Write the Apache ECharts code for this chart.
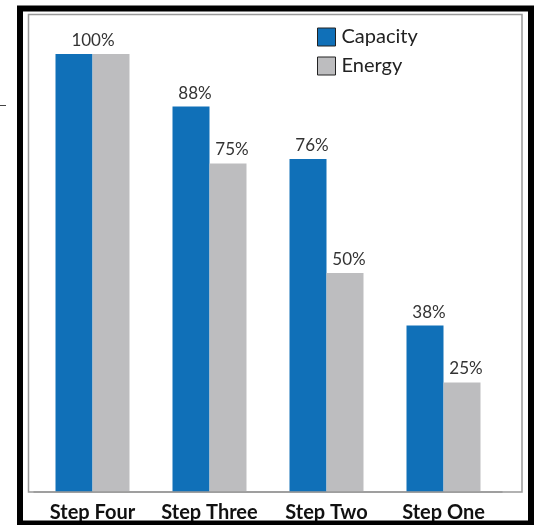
<!DOCTYPE html>
<html><head><meta charset="utf-8">
<script src="https://cdn.jsdelivr.net/npm/echarts@6/dist/echarts.min.js"></script>
<style>html,body{margin:0;padding:0;background:#fff}#c{width:537px;height:525px}</style>
</head><body><div id="c"></div>
<script>
const categories = ['Step Four', 'Step Three', 'Step Two', 'Step One'];
const capacity = [100, 88, 76, 38];
const energy = [100, 75, 50, 25];
const seriesNames = ['Capacity', 'Energy'];

const FONT = 'Lato, "Open Sans", sans-serif';
const chart = echarts.init(document.getElementById('c'), null, {renderer: 'canvas'});

const labelBase = {show: true, position: 'top', distance: 5, offset: [4, 0], fontFamily: FONT, fontSize: 17, color: '#333', formatter: '{c}%'};

const capData = capacity.map((v, i) => {
  const item = {value: v};
  if (i === 0 && capacity[0] === energy[0]) item.label = {offset: [19, 0]};
  return item;
});
const enData = energy.map((v, i) => {
  const item = {value: v};
  if (i === 0 && capacity[0] === energy[0]) item.label = {show: false};
  return item;
});

chart.setOption({
  animation: false,
  backgroundColor: '#fff',
  grid: {left: 34, right: 35, top: 54, bottom: 33},
  legend: {
    orient: 'vertical', left: 317, top: 27, padding: 0,
    itemWidth: 18, itemHeight: 18, itemGap: 9,
    icon: 'rect',
    itemStyle: {borderColor: '#222', borderWidth: 1},
    textStyle: {fontFamily: FONT, fontSize: 20, color: '#222', padding: [0,0,0,1]},
    data: seriesNames
  },
  xAxis: {
    type: 'category', data: categories,
    axisLine: {show: true, lineStyle: {color: '#999', width: 1.5}},
    axisTick: {show: false},
    axisLabel: {interval: 0, hideOverlap: false, fontFamily: FONT, fontWeight: 'bold', fontSize: 20, color: '#111', margin: 11}
  },
  yAxis: {type: 'value', min: 0, max: 100, show: false, splitLine: {show: false}},
  series: [
    {name: seriesNames[0], type: 'bar', data: capData, barWidth: 37, barGap: '0%',
     itemStyle: {color: '#1070b8'}, label: labelBase},
    {name: seriesNames[1], type: 'bar', data: enData, barWidth: 37, barGap: '0%',
     itemStyle: {color: '#bdbdbf'}, label: labelBase}
  ],
  graphic: [
    {type: 'rect', shape: {x: 20, y: 8.5, width: 511, height: 515}, style: {fill: 'none', stroke: '#000', lineWidth: 6}, z: 10},
    {type: 'rect', shape: {x: 28.5, y: 14.5, width: 493.5, height: 477.5}, style: {fill: 'none', stroke: '#999', lineWidth: 1.5}, z: 10},
    {type: 'line', shape: {x1: 0, y1: 105.5, x2: 6, y2: 105.5}, style: {stroke: '#444', lineWidth: 1}, z: 10}
  ]
});
</script></body></html>
